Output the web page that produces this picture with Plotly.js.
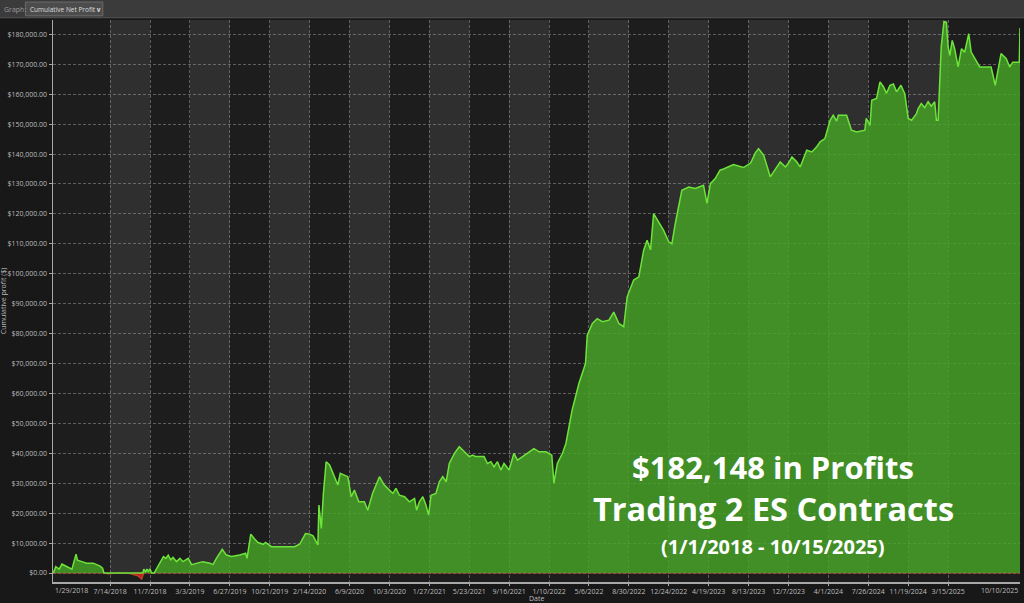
<!DOCTYPE html>
<html>
<head>
<meta charset="utf-8">
<script src="https://cdn.plot.ly/plotly-3.0.1.min.js"></script>
<style>
html,body{margin:0;padding:0;background:#181818;}
#chart{width:1024px;height:603px;}
</style>
</head>
<body>
<div id="chart"></div>
<script>
// ---- data ----
const dates = [
'2018-01-30','2018-02-06','2018-02-16','2018-02-24','2018-03-11','2018-03-25','2018-04-06','2018-04-10','2018-04-23','2018-05-07',
'2018-05-26','2018-06-15','2018-06-22','2018-06-26','2018-07-08','2018-08-12','2018-09-10','2018-10-03','2018-10-14','2018-10-17',
'2018-10-20','2018-10-25','2018-10-29','2018-11-02','2018-11-07','2018-11-12','2018-11-19','2018-12-06','2018-12-16','2018-12-23',
'2018-12-30','2019-01-06','2019-01-13','2019-01-23','2019-02-02','2019-02-11','2019-02-26','2019-03-08','2019-03-22','2019-04-09',
'2019-04-30','2019-05-09','2019-05-19','2019-06-05','2019-06-17','2019-07-02','2019-07-26','2019-08-12','2019-08-16','2019-08-27',
'2019-09-07','2019-09-17','2019-10-02','2019-10-09','2019-10-26','2019-11-27','2019-12-18','2020-01-01','2020-01-16','2020-02-02',
'2020-02-14','2020-02-24','2020-03-09','2020-03-12','2020-03-19','2020-03-25','2020-04-02','2020-04-12','2020-04-22','2020-05-01',
'2020-05-06','2020-05-13','2020-06-04','2020-06-14','2020-06-23','2020-07-06','2020-07-22','2020-08-01','2020-08-15','2020-09-04',
'2020-09-18','2020-10-03','2020-10-13','2020-10-22','2020-11-01','2020-11-16','2020-11-30','2020-12-15','2020-12-21','2020-12-29',
'2021-01-08','2021-01-17','2021-01-25','2021-02-01','2021-02-15','2021-02-25','2021-03-07','2021-03-17','2021-03-26','2021-04-10',
'2021-04-24','2021-05-09','2021-05-23','2021-06-02','2021-06-11','2021-07-05','2021-07-15','2021-07-25','2021-08-03','2021-08-13',
'2021-08-23','2021-09-01','2021-09-16','2021-09-30','2021-10-10','2021-10-25','2021-11-13','2021-11-27','2021-12-12','2022-01-01',
'2022-01-18','2022-01-24','2022-02-03','2022-02-18','2022-02-28','2022-03-07','2022-03-18','2022-04-07','2022-04-26','2022-05-01',
'2022-05-16','2022-05-30','2022-06-14','2022-07-03','2022-07-17','2022-08-01','2022-08-15','2022-08-25','2022-09-13','2022-09-28',
'2022-10-12','2022-10-22','2022-11-01','2022-11-10','2022-11-25','2022-12-09','2022-12-24','2023-01-02','2023-01-12','2023-01-31',
'2023-02-20','2023-03-11','2023-04-04','2023-04-14','2023-04-24','2023-05-08','2023-05-22','2023-06-01','2023-06-30','2023-07-29',
'2023-08-19','2023-09-02','2023-09-11','2023-09-26','2023-10-15','2023-10-30','2023-11-13','2023-11-28','2023-12-07','2023-12-17',
'2023-12-31','2024-01-10','2024-01-29','2024-02-13','2024-02-27','2024-03-08','2024-03-22','2024-04-06','2024-04-15','2024-04-25',
'2024-04-30','2024-05-24','2024-06-07','2024-06-22','2024-07-16','2024-07-20','2024-07-31','2024-08-05','2024-08-19','2024-08-29',
'2024-09-08','2024-09-17','2024-09-27','2024-10-07','2024-10-16','2024-10-29','2024-11-09','2024-11-19','2024-11-29','2024-12-13',
'2024-12-18','2024-12-27','2025-01-06','2025-01-16','2025-01-25','2025-02-04','2025-02-09','2025-02-14','2025-02-19','2025-02-23',
'2025-03-03','2025-03-10','2025-03-15','2025-03-20','2025-03-27','2025-04-03','2025-04-13','2025-04-23','2025-05-02','2025-05-14',
'2025-05-21','2025-05-31','2025-06-15','2025-07-18','2025-07-30','2025-08-16','2025-08-31','2025-09-10','2025-09-19','2025-10-08',
'2025-10-10'
];
const profit = [
0,2100,1300,3000,2100,1300,6300,4300,3800,3300,
3300,2300,1600,0,-300,0,-200,-1000,-2100,-500,
1300,300,1300,600,1300,0,-200,3300,5500,4900,
6000,4400,5200,3800,4900,3800,4900,2800,3300,3800,
3300,2800,4900,7900,6000,5500,6000,6600,4900,13000,
11400,10200,9600,10200,8800,8800,8600,8800,9600,13200,
13000,12400,9400,22700,14900,26600,37200,36100,33300,31100,
29400,33300,32200,25500,27700,23800,23800,21000,26600,32200,
29400,27700,26600,28300,26000,25500,23800,24900,21000,23800,
25500,22700,19400,26000,26600,30500,32200,30500,36600,40000,
42200,40500,38900,39400,38900,38900,36600,37200,35500,37200,
34400,36600,34400,40000,37700,38900,40500,41600,40500,40500,
39400,30000,36600,40000,43300,47800,54400,63400,70000,79500,
83400,85000,84000,84500,87200,83400,82300,92300,97900,99000,
107900,111200,108000,120100,117300,114500,110700,110000,116800,127900,
129000,128500,129600,123500,130100,131800,134600,135000,136500,135500,
137000,140500,141800,139600,132400,135100,137400,135700,137000,139000,
137400,135700,141300,140700,142400,144100,145200,151300,153000,151000,
153000,153000,148000,147400,148000,151900,149600,158000,158600,164100,
162500,160300,163000,163400,160800,163000,160200,151900,151300,153500,
155200,156900,155500,157500,156000,157500,151300,151300,164100,175800,
184300,184000,175800,173000,178000,175200,169100,175200,174000,180200,
174100,171900,169100,169100,163000,173600,171900,169100,170700,170700,
182148
];
const tickDates = ['2018-01-29','2018-07-14','2018-11-07','2019-03-03','2019-06-27','2019-10-21','2020-02-14','2020-06-09',
  '2020-10-03','2021-01-27','2021-05-23','2021-09-16','2022-01-10','2022-05-06','2022-08-30','2022-12-24','2023-04-19',
  '2023-08-13','2023-12-07','2024-04-01','2024-07-26','2024-11-19','2025-03-15','2025-10-10'];
const tickLabels = ['1/29/2018','7/14/2018','11/7/2018','3/3/2019','6/27/2019','10/21/2019','2/14/2020','6/9/2020',
  '10/3/2020','1/27/2021','5/23/2021','9/16/2021','1/10/2022','5/6/2022','8/30/2022','12/24/2022','4/19/2023',
  '8/13/2023','12/7/2023','4/1/2024','7/26/2024','11/19/2024','3/15/2025','10/10/2025'];
const yTicks = [0,10000,20000,30000,40000,50000,60000,70000,80000,90000,100000,110000,120000,130000,140000,150000,160000,170000,180000];
const yTickLabels = ['$0.00','$10,000.00','$20,000.00','$30,000.00','$40,000.00','$50,000.00','$60,000.00','$70,000.00',
  '$80,000.00','$90,000.00','$100,000.00','$110,000.00','$120,000.00','$130,000.00','$140,000.00','$150,000.00',
  '$160,000.00','$170,000.00','$180,000.00'];
const headerLabel = 'Graph:';
const dropdownLabel = 'Cumulative Net Profit';
const yTitle = 'Cumulative profit ($)';
const xTitle = 'Date';
const overlayLines = ['$182,148 in Profits','Trading 2 ES Contracts','(1/1/2018 - 10/15/2025)'];

// ---- traces ----
const pos = profit.map(v => Math.max(v, 0));
const neg = profit.map(v => Math.min(v, 0));
const traces = [
  {x: dates, y: neg, type: 'scatter', mode: 'lines', fill: 'tozeroy',
   fillcolor: 'rgba(225,30,30,0.9)', line: {color: '#b5472a', width: 1.2}, hoverinfo: 'skip'},
  {x: dates, y: pos, type: 'scatter', mode: 'lines', fill: 'tozeroy',
   fillcolor: 'rgba(70,165,36,0.82)', line: {color: '#6ee43a', width: 1.5}, hoverinfo: 'skip'}
];

// ---- background bands between alternating ticks ----
const shapes = [];
for (let i = 1; i < tickDates.length - 2; i += 2) {
  shapes.push({type: 'rect', xref: 'x', yref: 'y', x0: tickDates[i], x1: tickDates[i + 1], y0: 0, y1: 184800,
    fillcolor: '#2f2f2f', line: {width: 0}, layer: 'below'});
}
// header bar
shapes.push({type: 'rect', xref: 'paper', yref: 'paper', x0: -0.06, x1: 1.01, y0: 1.004, y1: 1.04,
  fillcolor: '#3b3b3b', line: {width: 0}});
shapes.push({type: 'line', xref: 'paper', yref: 'paper', x0: -0.06, x1: 1.01, y0: 1.004, y1: 1.004,
  line: {color: '#555', width: 1}});
shapes.push({type: 'rect', xref: 'paper', yref: 'paper', x0: -0.0285, x1: 0.0515, y0: 1.0075, y1: 1.032,
  fillcolor: '#4c4c4c', line: {color: '#6a6a6a', width: 1}});

const F = 'Open Sans, Segoe UI, Liberation Sans, sans-serif';
const TF = 7;
const annotations = [
  {xref: 'x', yref: 'paper', x: tickDates[0], y: 0, yshift: -2, xanchor: 'left', yanchor: 'top', showarrow: false,
   text: tickLabels[0], font: {family: F, size: TF, color: '#bdbdbd'}},
  {xref: 'x', yref: 'paper', x: tickDates[tickDates.length - 1], y: 0, yshift: -2, xanchor: 'right', yanchor: 'top', showarrow: false,
   text: tickLabels[tickLabels.length - 1], font: {family: F, size: TF, color: '#bdbdbd'}},
  {xref: 'paper', yref: 'paper', x: 0.5, y: -0.0297, xanchor: 'center', yanchor: 'middle', showarrow: false,
   text: xTitle, font: {family: F, size: TF, color: '#bdbdbd'}},
  {xref: 'paper', yref: 'paper', x: -0.0515, y: 0.5, xanchor: 'center', yanchor: 'middle', showarrow: false, textangle: -90,
   text: yTitle, font: {family: F, size: TF, color: '#bdbdbd'}},
  {xref: 'paper', yref: 'paper', x: -0.0525, y: 1.0195, xanchor: 'left', yanchor: 'middle', showarrow: false,
   text: headerLabel, font: {family: F, size: TF, color: '#9a9a9a'}},
  {xref: 'paper', yref: 'paper', x: -0.0255, y: 1.0195, xanchor: 'left', yanchor: 'middle', showarrow: false,
   text: dropdownLabel + ' <b>v</b>', font: {family: F, size: 6.5, color: '#dcdcdc'}},
  {xref: 'paper', yref: 'paper', x: 0.7446, y: 0.2046, xanchor: 'center', yanchor: 'middle', showarrow: false,
   text: '<b>' + overlayLines[0] + '</b>', font: {family: F, size: 31, color: '#ffffff'}},
  {xref: 'paper', yref: 'paper', x: 0.7446, y: 0.130, xanchor: 'center', yanchor: 'middle', showarrow: false,
   text: '<b>' + overlayLines[1] + '</b>', font: {family: F, size: 32.5, color: '#ffffff'}},
  {xref: 'paper', yref: 'paper', x: 0.7446, y: 0.064, xanchor: 'center', yanchor: 'middle', showarrow: false,
   text: '<b>' + overlayLines[2] + '</b>', font: {family: F, size: 20, color: '#ffffff'}}
];

const grid = 'rgba(200,200,200,0.38)';
const layout = {
  width: 1024, height: 603,
  margin: {l: 53, r: 4, t: 20, b: 21, pad: 0},
  paper_bgcolor: '#181818', plot_bgcolor: '#1d1d1d',
  showlegend: false,
  font: {family: F, color: '#bdbdbd', size: TF},
  xaxis: {
    type: 'date', range: [tickDates[0], tickDates[tickDates.length - 1]],
    tickmode: 'array', tickvals: tickDates.slice(1, -1), ticktext: tickLabels.slice(1, -1),
    tickfont: {family: F, size: TF, color: '#bdbdbd'}, tickangle: 0,
    showgrid: true, gridcolor: grid, griddash: '3px,2px', gridwidth: 1,
    showline: true, linecolor: '#a8a8a8', linewidth: 1.5,
    ticks: 'outside', ticklen: 2, tickcolor: '#a8a8a8',
    zeroline: false, fixedrange: true, automargin: false
  },
  yaxis: {
    range: [-3000, 184800],
    tickmode: 'array', tickvals: yTicks, ticktext: yTickLabels,
    tickfont: {family: F, size: TF, color: '#bdbdbd'},
    showgrid: true, gridcolor: grid, griddash: '3px,2px', gridwidth: 1,
    showline: true, linecolor: '#a8a8a8', linewidth: 1.5,
    ticks: 'outside', ticklen: 3, tickcolor: '#a8a8a8',
    zeroline: false, fixedrange: true, automargin: false
  },
  shapes: shapes,
  annotations: annotations
};

Plotly.newPlot('chart', traces, layout, {staticPlot: true, displayModeBar: false});
</script>
</body>
</html>
